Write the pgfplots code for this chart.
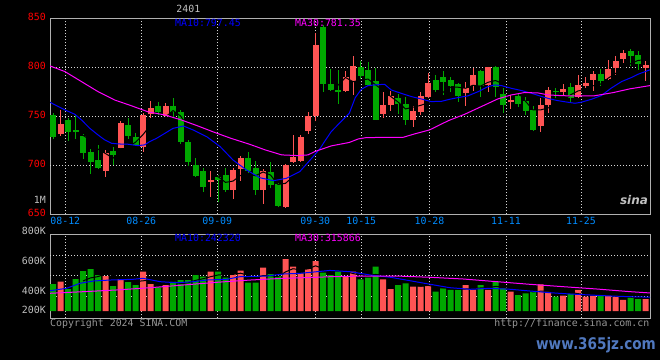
\documentclass[border=0pt]{standalone}
\usepackage{fontspec}
\setmainfont{DejaVu Sans Mono}
\newfontfamily\wmfont{DejaVu Sans}
\usepackage{pgfplots}
\usepackage{pgfplotstable}
\pgfplotsset{compat=1.18}
\definecolor{upred}{RGB}{255,84,84}
\definecolor{dngreen}{RGB}{0,168,0}
\definecolor{framegray}{RGB}{176,176,176}
\definecolor{gridgray}{RGB}{215,215,215}
\definecolor{datecol}{RGB}{0,140,255}
\definecolor{lblgray}{RGB}{192,192,192}
\definecolor{cpgray}{RGB}{150,150,150}
\definecolor{maten}{RGB}{0,0,255}
\definecolor{mathirty}{RGB}{255,0,255}
\definecolor{wmblue}{RGB}{80,120,190}
\newcommand\pxfont{\fontsize{9.9pt}{11pt}\selectfont}

% up (red) candles: index open high low close
\pgfplotstableread{
i o h l c
1 732.4 756.5 730.3 742.2
7 694.3 715.7 688.5 712.3
9 718.1 745.3 717.4 743.6
12 719.1 753.1 714.0 751.4
13 752.1 765.7 748.0 758.9
15 750.7 763.3 749.7 760.9
21 683.4 694.3 668.1 685.4
24 674.9 697.0 665.7 695.3
25 696.3 709.6 684.4 707.2
28 674.9 696.0 660.6 694.3
31 657.6 701.4 656.9 700.4
32 703.1 731.0 702.8 708.9
33 704.5 731.0 703.8 729.0
34 735.1 754.1 732.0 750.4
35 750.4 834.5 745.3 822.8
39 775.9 796.3 775.2 790.2
40 786.1 811.6 771.8 801.4
44 752.4 775.2 748.7 761.6
45 761.6 775.9 755.8 770.8
48 746.3 760.6 739.5 755.5
49 754.8 774.5 751.4 770.8
50 769.8 794.6 768.4 784.0
55 774.2 785.4 760.9 778.6
56 781.0 799.7 776.2 792.2
58 782.0 800.7 775.2 800.7
61 764.3 771.8 757.5 766.7
65 740.2 769.1 734.4 761.6
66 761.6 780.3 753.8 776.9
68 774.5 783.0 771.8 777.9
70 770.1 792.2 768.4 782.0
71 781.0 789.8 779.3 784.0
72 787.1 796.6 776.2 793.2
74 788.1 807.5 787.1 798.3
75 799.0 811.6 792.2 806.5
76 808.5 817.7 804.8 815.0
79 799.7 806.5 786.4 802.4
}\upc

% down (green) candles: index open high low close
\pgfplotstableread{
i o h l c
0 751.4 753.8 726.9 729.3
2 746.3 748.7 724.9 734.4
3 736.1 751.4 726.9 734.1
4 730.3 731.7 706.5 713.0
5 714.0 716.4 691.2 703.8
6 705.5 720.8 696.3 697.0
8 715.0 719.1 700.4 710.6
10 741.2 748.7 726.9 730.3
11 728.6 732.7 720.1 720.8
14 760.9 764.3 751.4 754.1
16 760.9 769.1 749.7 754.1
17 754.8 756.5 721.5 724.2
18 724.2 725.9 699.7 703.8
19 700.4 707.2 688.5 689.2
20 694.3 697.0 673.2 678.3
22 688.2 690.2 662.3 685.4
23 690.2 697.0 673.2 674.9
26 707.2 714.0 691.9 694.3
27 697.0 704.5 669.8 674.9
29 693.6 703.8 676.6 680.0
30 680.7 681.7 657.2 658.6
36 841.5 843.2 775.2 783.0
37 782.7 798.3 775.9 776.9
38 776.9 797.3 762.6 775.2
41 800.7 806.8 788.1 791.2
42 797.3 805.8 781.3 782.0
43 786.1 799.0 746.3 746.3
46 768.4 772.8 752.1 762.3
47 762.6 769.4 741.2 746.3
51 787.1 792.2 775.2 776.9
52 790.2 796.3 771.8 785.4
53 787.1 790.5 775.2 781.3
54 783.0 784.0 765.0 770.8
57 796.6 797.3 770.1 781.0
59 800.7 801.4 770.1 780.0
60 772.8 779.3 753.8 761.6
62 770.8 773.5 759.9 762.6
63 765.7 770.1 751.4 755.5
64 756.5 760.9 735.1 736.1
67 775.9 779.3 768.4 774.5
69 780.3 783.7 764.3 768.4
73 793.2 798.3 781.3 786.4
77 816.7 818.4 801.4 811.6
78 812.6 816.7 797.3 803.4
}\dnc

% volume (K) on up days
\pgfplotstableread{
i v
1 513
7 612
9 560
12 688
13 472
15 455
21 688
24 647
25 705
28 758
31 910
32 775
33 660
34 735
35 875
39 600
40 688
44 555
45 385
48 425
49 425
50 455
55 455
56 368
58 368
61 338
65 467
66 338
68 268
70 368
71 250
72 263
74 263
75 250
76 193
79 210
}\upv

% volume (K) on down days
\pgfplotstableread{
i v
0 472
2 385
3 560
4 700
5 735
6 630
8 437
10 507
11 455
14 415
16 513
17 542
18 542
19 630
20 600
22 688
23 583
26 495
27 495
29 647
30 612
36 670
37 630
38 688
41 555
42 583
43 775
46 455
47 485
51 338
52 397
53 368
54 368
57 455
59 513
60 397
62 280
63 310
64 338
67 250
69 298
73 263
77 240
78 210
}\dnv

\pgfplotsset{
  sinaaxis/.style={
    scale only axis, width=600pt,
    xmin=-0.4, xmax=79.6,
    axis line style={draw=framegray, line width=1pt},
    major tick length=0pt, minor tick num=0,
    xtick={1.64,11.77,21.9,34.97,41.1,50.2,60.4,70.4},
    xmajorgrids=true,
    grid style={draw=gridgray, line width=1pt, dash pattern=on 1pt off 2pt},
    /pgf/number format/assume math mode=true,
    tick label style={font=\pxfont},
    yticklabel style={anchor=east, inner sep=0pt, xshift=-4pt},
    extra y tick labels={},
    extra y tick style={grid=major},
  },
  wick/.style={draw=none, mark=none, forget plot,
    error bars/.cd, y dir=plus, y explicit, error mark=none,
    error bar style={draw=#1, line width=1pt}},
  body/.style={draw=none, mark=none, forget plot,
    error bars/.cd, y dir=plus, y explicit, error mark=none,
    error bar style={draw=#1, line width=6pt}},
}

\begin{document}
\begin{tikzpicture}[x=1pt,y=1pt]
\fill[black] (0,0) rectangle (660,360);
\useasboundingbox (0,0) rectangle (660,360);

% ---------------- price panel ----------------
\begin{axis}[sinaaxis,
  at={(50pt,145.7pt)}, anchor=south west, height=196pt,
  ymin=650, ymax=850,
  xticklabels={08-12,08-26,09-09,09-30,10-15,10-28,11-11,11-25},
  xticklabel style={text=datecol, anchor=north, inner sep=0pt, yshift=-2.4pt},
  ytick={650,700,750,800,850},
  yticklabels={650,700,750,800,850},
  yticklabel style={text=red, yshift=1.3pt},
  extra y ticks={700,750,800},
]
\addplot[wick=upred] table[x=i, y=l, y error plus expr={\thisrow{h}-\thisrow{l}}] {\upc};
\addplot[body=upred] table[x=i, y=o, y error plus expr={\thisrow{c}-\thisrow{o}}] {\upc};
\addplot[wick=dngreen] table[x=i, y=l, y error plus expr={\thisrow{h}-\thisrow{l}}] {\dnc};
\addplot[body=dngreen] table[x=i, y=c, y error plus expr={\thisrow{o}-\thisrow{c}}] {\dnc};
% MA5 (black, shows only across candles)
\addplot[black, line width=1pt, mark=none] coordinates {
(4,730.6) (5,725.5) (6,716.5) (7,712.0) (8,707.3) (9,713.5) (10,718.8) (11,723.5) (12,731.3) (13,741.0) (14,743.1) (15,749.2) (16,755.9) (17,750.4) (18,739.4) (19,726.4) (20,709.9) (21,696.2) (22,688.4) (23,682.6) (24,683.9) (25,689.6) (26,691.4) (27,689.3) (28,693.2) (29,690.1) (30,680.4) (31,681.6) (32,688.4) (33,695.4) (34,709.5) (35,742.3) (36,758.8) (37,772.4) (38,781.7) (39,789.6) (40,785.3) (41,787.0) (42,788.0) (43,782.2) (44,776.5) (45,770.4) (46,764.6) (47,757.5) (48,759.3) (49,761.1) (50,763.8) (51,766.7) (52,774.5) (53,779.7) (54,779.7) (55,778.6) (56,781.7) (57,780.8) (58,784.7) (59,786.5) (60,783.1) (61,778.0) (62,774.3) (63,765.3) (64,756.5) (65,756.5) (66,758.5) (67,760.9) (68,765.4) (69,771.9) (70,775.9) (71,777.4) (72,781.1) (73,782.8) (74,788.8) (75,793.7) (76,799.9) (77,803.6) (78,807.0) (79,807.8)};
% MA10
\addplot[maten, line width=1pt, mark=none] coordinates {
(-0.4,764.3) (1.6,756.5) (2.9,752.1) (3.8,746.3) (4.9,737.8) (6.0,731.0) (6.9,725.9) (7.8,722.5) (8.7,721.8) (10.0,721.5) (11.3,720.1) (12.2,720.8) (12.9,724.2) (13.8,727.5) (15.0,733.0) (16.0,737.7) (17.4,740.1) (18.7,736.0) (20.5,729.2) (22.3,719.0) (24.0,705.4) (25.8,695.2) (27.6,687.3) (29.4,684.3) (31.1,686.7) (32.9,693.5) (34.7,709.0) (35.6,717.0) (36.2,724.2) (37.1,734.4) (38.4,744.6) (39.5,753.0) (40.3,769.0) (41.1,777.5) (42.0,781.3) (42.9,782.0) (44.2,782.7) (45.1,776.9) (46.4,773.5) (47.8,770.1) (49.1,767.7) (50.4,765.0) (51.8,765.3) (52.9,767.4) (54.0,769.1) (55.3,770.8) (56.7,775.2) (58.0,780.3) (58.9,782.0) (59.8,781.3) (61.1,778.6) (62.5,776.2) (63.8,773.5) (65.2,770.1) (66.3,767.7) (67.3,766.0) (68.7,764.3) (69.6,763.3) (70.4,764.3) (71.8,767.4) (73.1,771.1) (74.4,778.6) (75.8,785.4) (77.1,789.5) (78.0,792.9) (79.6,797.45)};
% MA30
\addplot[mathirty, line width=1pt, mark=none] coordinates {
(-0.4,801.4) (1.6,795.6) (3.8,785.4) (6.0,775.2) (8.2,766.7) (10.4,760.9) (12.7,754.5) (14.9,751.4) (17.1,746.3) (19.3,740.2) (21.5,733.7) (23.7,727.6) (26.2,721.5) (28.3,715.7) (30.5,710.6) (32.7,709.9) (34.0,710.6) (34.9,714.0) (37.1,719.8) (39.5,723.3) (40.7,726.9) (41.8,728.3) (46.7,728.6) (48.2,732.0) (50.2,736.1) (52.7,745.5) (54.9,752.1) (57.1,759.9) (59.3,767.7) (61.1,771.8) (62.9,774.3) (64.7,773.8) (66.0,771.8) (68.0,771.0) (70.4,770.8) (72.1,770.8) (73.4,772.5) (74.7,774.2) (76.9,778.0) (79.6,781.35)};
\end{axis}

% ---------------- volume panel ----------------
\begin{axis}[sinaaxis,
  at={(50pt,41.7pt)}, anchor=south west, height=84pt,
  ymin=-127.75, ymax=1342.25,
  xticklabels={},
  ytick={17.5,355,880},
  yticklabels={200K,400K,600K},
  yticklabel style={text=lblgray},
  extra y ticks={262.5,630,980},
]
\addplot[ybar, bar width=6pt, bar shift=0pt, fill=upred, draw=none] table[x=i, y=v] {\upv};
\addplot[ybar, bar width=6pt, bar shift=0pt, fill=dngreen, draw=none] table[x=i, y=v] {\dnv};
% volume MA5 (black)
\addplot[black, line width=1pt, mark=none] coordinates {
(4,526) (5,579) (6,602) (7,647) (8,623) (9,595) (10,549) (11,514) (12,529) (13,536) (14,507) (15,497) (16,509) (17,479) (18,493) (19,536) (20,565) (21,600) (22,630) (23,638) (24,641) (25,662) (26,624) (27,585) (28,620) (29,620) (30,601) (31,684) (32,740) (33,721) (34,738) (35,791) (36,743) (37,714) (38,720) (39,693) (40,655) (41,632) (42,623) (43,640) (44,631) (45,571) (46,551) (47,531) (48,461) (49,435) (50,449) (51,426) (52,408) (53,397) (54,385) (55,385) (56,391) (57,403) (58,403) (59,432) (60,420) (61,414) (62,379) (63,368) (64,333) (65,347) (66,347) (67,341) (68,332) (69,324) (70,304) (71,287) (72,289) (73,288) (74,281) (75,258) (76,246) (77,242) (78,231) (79,221)};
\addplot[maten, line width=1pt, mark=none] coordinates {
(-0.4,355) (1.8,397) (3.6,485) (5.4,525) (7.6,542) (10.7,555) (12,572) (14.3,513) (16.5,495) (18.7,513) (20.5,542) (23.2,555) (24.9,600) (28.5,612) (30.7,647) (33,660) (35.2,688) (36.9,710) (39.6,688) (42.3,630) (45,590) (47.6,530) (50.3,467) (52.9,408) (55.6,380) (58.3,397) (61,380) (63.6,350) (66.3,320) (68.9,298) (71.6,280) (74.3,263) (77,250) (79.6,242.3)};
\addplot[mathirty, line width=1pt, mark=none] coordinates {
(-0.4,310) (4.05,338) (8.5,368) (13,408) (17.4,455) (21.8,502) (26.3,542) (30.7,572) (35.2,590) (36.9,600) (41.4,612) (45.8,612) (50.3,590) (54.7,560) (59.2,513) (63.6,467) (68.1,425) (72.5,385) (77,338) (79.6,315.9)};
\end{axis}

% ---------------- texts ----------------
\node[text=lblgray, inner sep=0pt, font=\pxfont] at (188.3,350.7) {2401};
\node[text=maten, anchor=west, inner sep=0pt, font=\pxfont] at (175,336.7) {MA10:797.45};
\node[text=mathirty, anchor=west, inner sep=0pt, font=\pxfont] at (295,336.7) {MA30:781.35};
\node[text=lblgray, anchor=east, inner sep=0pt, font=\pxfont] at (46,160) {1M};
\node[text=lblgray, anchor=east, inner sep=0pt, font=\pxfont] at (46,129.3) {800K};
\node[text=maten, anchor=west, inner sep=0pt, font=\pxfont] at (175,121.7) {MA10:242320};
\node[text=mathirty, anchor=west, inner sep=0pt, font=\pxfont] at (295,121.7) {MA30:315866};
\node[text=cpgray, anchor=west, inner sep=0pt, font=\pxfont] at (50,36) {Copyright 2024 SINA.COM};
\node[text=cpgray, anchor=east, inner sep=0pt, font=\pxfont] at (649.5,36) {http://finance.sina.com.cn};
\node[text=lblgray, inner sep=0pt, font=\wmfont\bfseries\itshape\fontsize{12pt}{13pt}\selectfont] at (634,159.5) {sina};
\node[text=wmblue, inner sep=0pt, xscale=0.85, font=\wmfont\bfseries\fontsize{16pt}{17pt}\selectfont] at (596,15) {www.365jz.com};
\end{tikzpicture}
\end{document}
